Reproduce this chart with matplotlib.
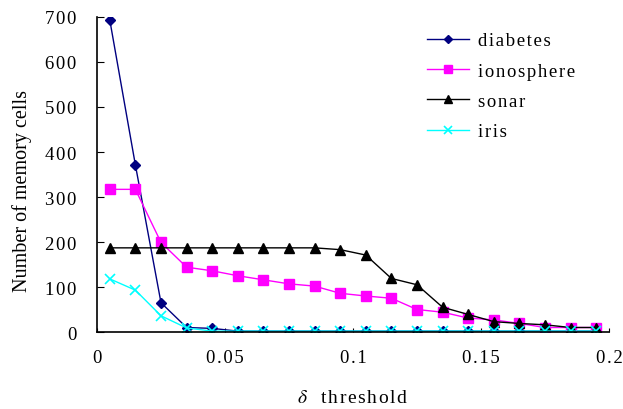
import matplotlib
matplotlib.use('Agg')
import matplotlib.pyplot as plt
import numpy as np

plt.rcParams['font.family'] = ['Liberation Serif', 'DejaVu Serif']
plt.rcParams['mathtext.fontset'] = 'stix'

# threshold values and memory cell counts per dataset
thresholds = [0.005, 0.015, 0.025, 0.035, 0.045, 0.055, 0.065, 0.075, 0.085, 0.095,
              0.105, 0.115, 0.125, 0.135, 0.145, 0.155, 0.165, 0.175, 0.185, 0.195]
diabetes = [693, 371, 65, 10, 8, 2, 2, 2, 2, 2, 2, 2, 2, 2, 2, 2, 2, 2, 2, 2]
ionosphere = [317, 317, 199, 144, 136, 125, 116, 107, 102, 86,
              80, 75, 50, 44, 31, 27, 19, 10, 10, 10]
sonar = [187, 187, 187, 187, 187, 187, 187, 187, 187, 183,
         171, 119, 105, 55, 39, 23, 19, 16, 10, 10]
iris = [118, 93, 36, 9, 2, 2, 2, 2, 2, 2, 2, 2, 2, 2, 2, 2, 2, 2, 2, 2]

x_ticks = [0, 0.05, 0.1, 0.15, 0.2]
x_tick_labels = ['0', '0.05', '0.1', '0.15', '0.2']
y_ticks = [0, 100, 200, 300, 400, 500, 600, 700]


def spaced(s):
    # slightly widened letter spacing using hair spaces
    return '\u200a'.join(s)


fig = plt.figure(figsize=(6.23, 4.10), dpi=100)
ax = fig.add_axes([0.1557, 0.1878, 0.8218, 0.7683])

ax.plot(thresholds, diabetes, color='#000080', marker='D', markersize=5.5,
        linewidth=1, label=spaced('diabetes'))
ax.plot(thresholds, ionosphere, color='#FF00FF', marker='s', markersize=6.5,
        linewidth=1, label=spaced('ionosphere'))
ax.plot(thresholds, sonar, color='black', marker='^', markersize=7.5,
        linewidth=1, label=spaced('sonar'))
ax.plot(thresholds, iris, color='#00FFFF', marker='x', markersize=7,
        markeredgewidth=1.2, linewidth=1, label=spaced('iris'))

ax.set_xlim(0, 0.2)
ax.set_ylim(0, 700)
ax.set_xticks(x_ticks)
ax.set_xticklabels([spaced(t) for t in x_tick_labels])
ax.set_yticks(y_ticks)
ax.set_yticklabels([spaced(str(t)) for t in y_ticks])

for side in ['top', 'right']:
    ax.spines[side].set_visible(False)
for side in ['left', 'bottom']:
    ax.spines[side].set_linewidth(1.2)

ax.tick_params(axis='x', direction='in', length=3, pad=12, labelsize=13.5)
ax.tick_params(axis='y', direction='in', length=5, pad=15, labelsize=13.5)

ax.set_ylabel('Number of memory cells', fontsize=14.5)
ax.yaxis.set_label_coords(-0.127, 0.45)
ax.set_xlabel(r'$\delta$   ' + spaced('threshold'), fontsize=14, labelpad=17)

ax.legend(loc='upper left', bbox_to_anchor=(0.612, 1.005), frameon=False,
          fontsize=13.5, labelspacing=0.7, handlelength=2.25,
          handletextpad=0.45, markerscale=0.8)

fig.savefig('out.png', dpi=100)
plt.close(fig)
